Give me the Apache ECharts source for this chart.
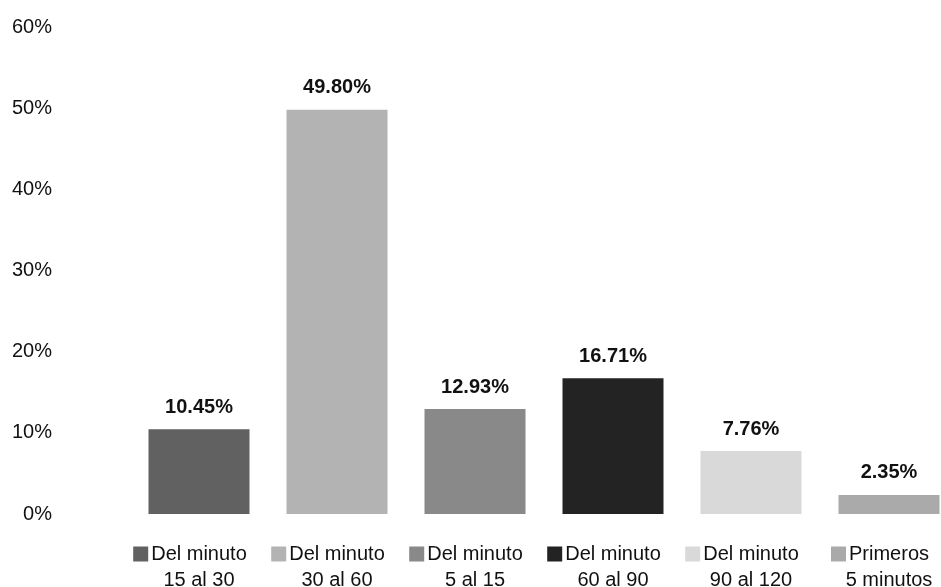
<!DOCTYPE html>
<html>
<head>
<meta charset="utf-8">
<script src="https://cdn.jsdelivr.net/npm/echarts@6/dist/echarts.min.js"></script>
<style>
  html, body { margin: 0; padding: 0; background: #fff; }
  #main { width: 941px; height: 587px; }
</style>
</head>
<body>
<div id="main"></div>
<script>
// datos del grafico
var categorias = ["Del minuto\n15 al 30", "Del minuto\n30 al 60", "Del minuto\n5 al 15",
  "Del minuto\n60 al 90", "Del minuto\n90 al 120", "Primeros\n5 minutos"];
var valores = [10.45, 49.80, 12.93, 16.71, 7.76, 2.35];
var colores = ["#616161", "#b3b3b3", "#898989", "#232323", "#d9d9d9", "#aaaaaa"];
var ticksY = [0, 10, 20, 30, 40, 50, 60];

var fuente = "'Liberation Sans', Arial, sans-serif";

// estilos rich para el cuadrito de color de cada etiqueta
var rich = {
  t: { fontSize: 20, fontFamily: fuente, color: "#111", lineHeight: 26 },
  sp: { width: 18, height: 15 }
};
colores.forEach(function (c, i) {
  rich["sq" + i] = { width: 15, height: 15, backgroundColor: c };
  rich["g" + i] = { width: 3 };
});

var chart = echarts.init(document.getElementById("main"));
chart.setOption({
  animation: false,
  grid: { left: 130, width: 828, top: 27, bottom: 73, containLabel: false, outerBoundsMode: "none" },
  xAxis: {
    type: "category",
    data: categorias,
    axisLine: { show: false },
    axisTick: { show: false },
    axisLabel: {
      margin: 27,
      interval: 0,
      formatter: function (v, i) {
        var partes = v.split("\n");
        return "{sq" + i + "|}{g" + i + "|}{t|" + partes[0] + "}{sp|}\n{t|" + partes[1] + "}";
      },
      rich: rich
    }
  },
  yAxis: {
    type: "value",
    min: ticksY[0],
    max: ticksY[ticksY.length - 1],
    interval: 10,
    splitLine: { show: false },
    axisLine: { show: false },
    axisTick: { show: false },
    axisLabel: {
      margin: 78,
      align: "right",
      fontSize: 20,
      fontFamily: fuente,
      color: "#111",
      formatter: "{value}%"
    }
  },
  series: [{
    type: "bar",
    barWidth: 101,
    data: valores.map(function (v, i) {
      return { value: v, itemStyle: { color: colores[i] } };
    }),
    label: {
      show: true,
      position: "top",
      distance: 12,
      fontSize: 20,
      fontWeight: "bold",
      fontFamily: fuente,
      color: "#111",
      formatter: function (p) { return p.value.toFixed(2) + "%"; }
    }
  }]
});
</script>
</body>
</html>
